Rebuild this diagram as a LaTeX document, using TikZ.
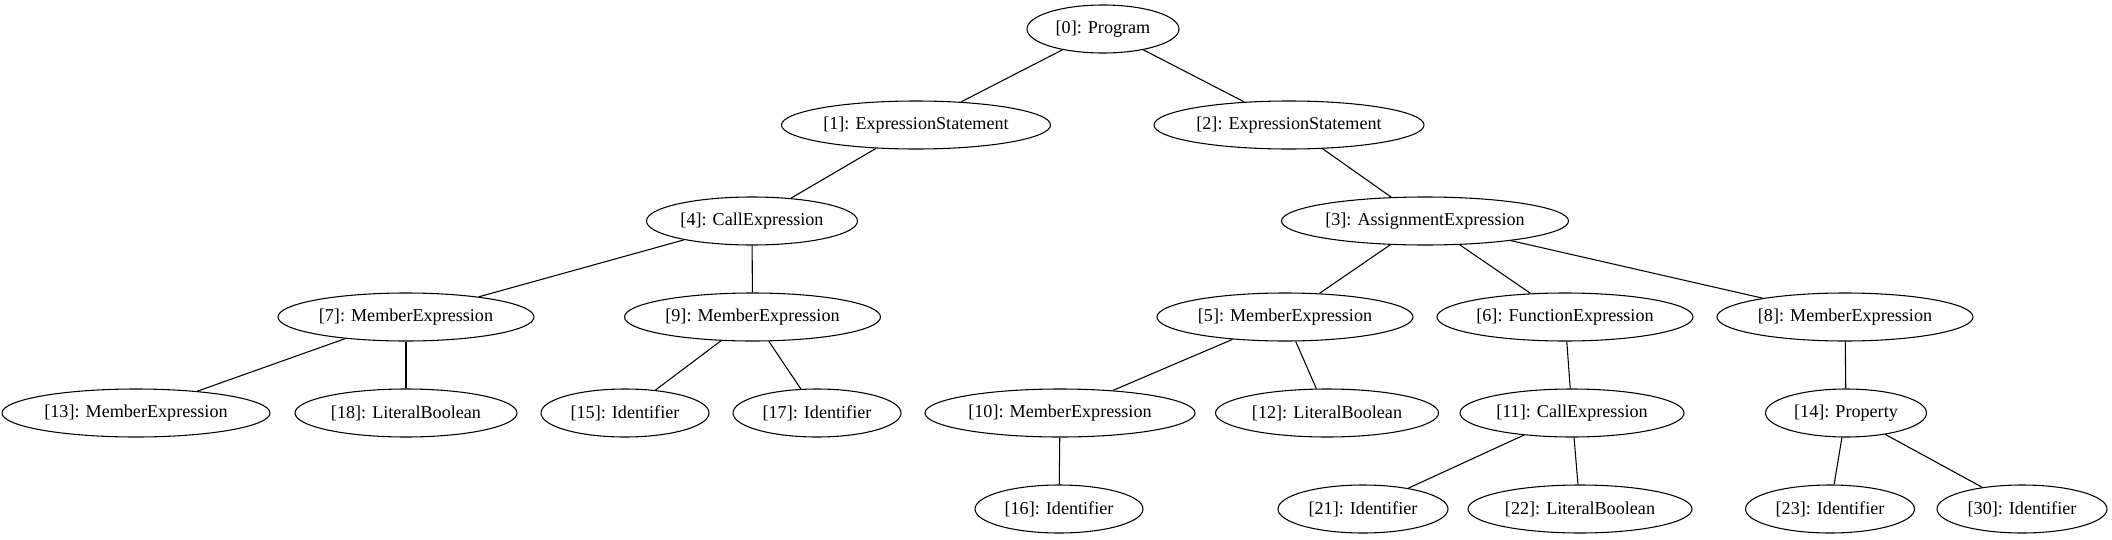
\documentclass[tikz,border=0pt]{standalone}
\usepackage{fontspec}
\setmainfont{Liberation Serif}
\usetikzlibrary{shapes.geometric}
\begin{document}
\begin{tikzpicture}[x=0.75pt,y=-0.75pt,
  nd/.style={draw,ellipse,inner sep=0pt,minimum height=36pt,line width=0.8pt,
    font=\fontsize{13.6}{16}\selectfont},
  w/.style={minimum width=#1*0.75pt},
  ed/.style={line width=0.8pt}]
\useasboundingbox (0,0) rectangle (2112,539);
\newcommand{\lb}[1]{\makebox[0pt]{#1}}
\node[nd,w=152] (n0) at (1103,29) {\lb{[0]: Program}};
\node[nd,w=269] (n1) at (916,125) {\lb{[1]: ExpressionStatement}};
\node[nd,w=270] (n2) at (1289,125) {\lb{[2]: ExpressionStatement}};
\node[nd,w=211] (n4) at (752,221) {\lb{[4]: CallExpression}};
\node[nd,w=287] (n3) at (1425,221) {\lb{[3]: AssignmentExpression}};
\node[nd,w=256] (n7) at (406,317) {\lb{[7]: MemberExpression}};
\node[nd,w=256] (n9) at (752.5,317) {\lb{[9]: MemberExpression}};
\node[nd,w=256] (n5) at (1285,317) {\lb{[5]: MemberExpression}};
\node[nd,w=256] (n6) at (1565,317) {\lb{[6]: FunctionExpression}};
\node[nd,w=256] (n8) at (1845,317) {\lb{[8]: MemberExpression}};
\node[nd,w=268] (n13) at (136,413) {\lb{[13]: MemberExpression}};
\node[nd,w=222] (n18) at (406,413) {\lb{[18]: LiteralBoolean}};
\node[nd,w=168] (n15) at (625,413) {\lb{[15]: Identifier}};
\node[nd,w=168] (n17) at (817,413) {\lb{[17]: Identifier}};
\node[nd,w=270] (n10) at (1060,413) {\lb{[10]: MemberExpression}};
\node[nd,w=223] (n12) at (1327,413) {\lb{[12]: LiteralBoolean}};
\node[nd,w=224] (n11) at (1572,413) {\lb{[11]: CallExpression}};
\node[nd,w=161] (n14) at (1846,413) {\lb{[14]: Property}};
\node[nd,w=168] (n16) at (1059,509) {\lb{[16]: Identifier}};
\node[nd,w=170] (n21) at (1363,509) {\lb{[21]: Identifier}};
\node[nd,w=224] (n22) at (1580,509) {\lb{[22]: LiteralBoolean}};
\node[nd,w=169] (n23) at (1830,509) {\lb{[23]: Identifier}};
\node[nd,w=170] (n30) at (2022,509) {\lb{[30]: Identifier}};
\foreach \a/\b in {n0/n1,n0/n2,n1/n4,n2/n3,n4/n7,n4/n9,n7/n13,n7/n18,n9/n15,n9/n17,
  n3/n5,n3/n6,n3/n8,n5/n10,n5/n12,n6/n11,n8/n14,n10/n16,n11/n21,n11/n22,n14/n23,n14/n30}
  \draw[ed] (\a) -- (\b);
\end{tikzpicture}
\end{document}
